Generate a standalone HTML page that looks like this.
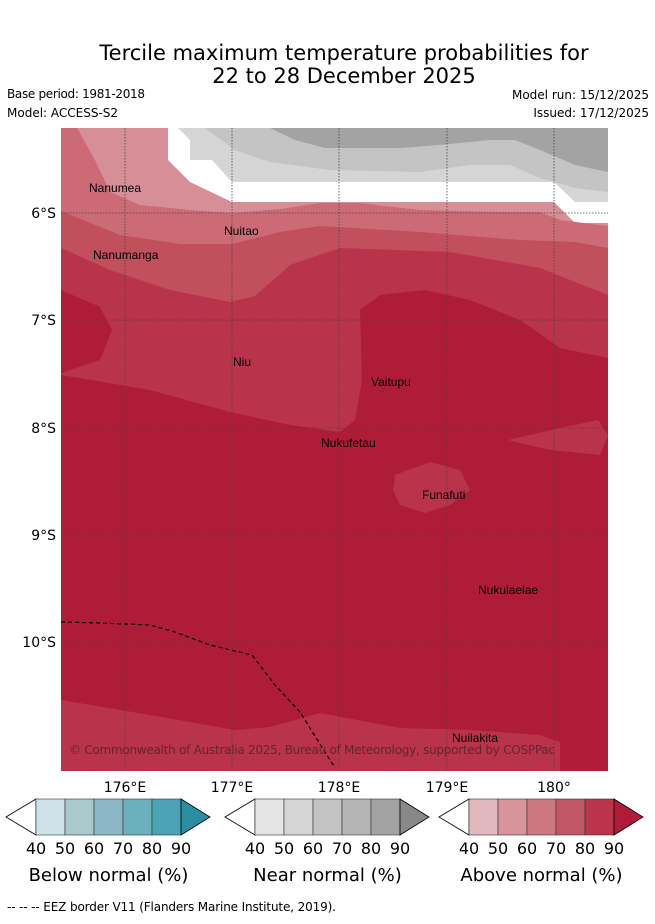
<!DOCTYPE html>
<html><head><meta charset="utf-8"><style>
body{margin:0;background:#fff;width:655px;height:919px;overflow:hidden;font-family:"Liberation Sans","DejaVu Sans",sans-serif;}
</style></head><body>
<svg id="s" width="655" height="919" xmlns="http://www.w3.org/2000/svg" font-family="DejaVu Sans, Liberation Sans, sans-serif">
<text x="344" y="60" font-size="21" text-anchor="middle">Tercile maximum temperature probabilities for</text>
<text x="344" y="83" font-size="21" text-anchor="middle">22 to 28 December 2025</text>
<text x="7" y="98" font-size="12" textLength="138">Base period: 1981-2018</text>
<text x="7" y="117" font-size="12">Model: ACCESS-S2</text>
<text x="649" y="99" font-size="12" text-anchor="end">Model run: 15/12/2025</text>
<text x="649" y="117" font-size="12" text-anchor="end">Issued: 17/12/2025</text>
<g>
<clipPath id="c"><rect x="61" y="128" width="547" height="643"/></clipPath>
<g clip-path="url(#c)">
<rect x="61" y="128" width="547" height="643" fill="#fff"/>
<polygon fill="#d5d5d5" points="178,128 608,128 608,202 575,202 554,182 232,182 212,160 190,160 190,140"/>
<polygon fill="#c4c4c4" points="205,128 235,150 270,162 330,170 420,172 470,165 510,165 540,178 575,188 608,192 608,128"/>
<polygon fill="#a3a3a3" points="270,128 295,140 325,148 400,148 440,145 490,140 515,140 540,150 575,165 608,172 608,128"/>
<polygon fill="#d78f97" points="61,128 168,128 168,160 190,182 232,202 554,202 575,223 608,223 608,771 61,771"/>
<polygon fill="#cc6b76" points="61,128 77,128 95,160 110,192 140,205 190,210 232,213 280,209 320,203 360,203 420,210 500,212 540,212 560,220 608,226 608,771 61,771"/>
<polygon fill="#c14f5c" points="61,211 120,235 180,244 232,244 280,232 320,226 420,232 520,240 575,242 608,248 608,771 61,771"/>
<polygon fill="#b9334a" points="61,248 110,270 170,290 230,302 255,296 290,265 340,248 450,252 540,268 608,295 608,771 61,771"/>
<polygon fill="#af1c38" points="61,375 150,390 230,412 290,425 340,432 355,420 362,380 360,310 380,295 425,290 470,300 520,320 560,348 608,358 608,771 61,771"/>
<polygon fill="#af1c38" points="61,290 100,307 112,330 100,360 61,373"/>
<polygon fill="#b9334a" points="395,475 430,462 460,470 470,490 450,505 425,513 400,505 393,490"/>
<polygon fill="#b9334a" points="508,440 560,428 598,420 608,435 600,455 550,450"/>
<polygon fill="#b9334a" points="61,700 150,715 235,730 270,727 320,713 400,728 470,730 540,735 560,742 560,771 61,771"/>
</g>
<g stroke="#444" stroke-width="0.8" stroke-dasharray="1.5,1.5">
<line x1="125" y1="128" x2="125" y2="771"/><line x1="232" y1="128" x2="232" y2="771"/><line x1="339" y1="128" x2="339" y2="771"/><line x1="447" y1="128" x2="447" y2="771"/><line x1="554" y1="128" x2="554" y2="771"/>
<line x1="61" y1="213" x2="608" y2="213"/><line x1="61" y1="320" x2="608" y2="320"/><line x1="61" y1="428" x2="608" y2="428"/><line x1="61" y1="535" x2="608" y2="535"/><line x1="61" y1="642" x2="608" y2="642"/>
</g>
<polyline fill="none" stroke="#000" stroke-width="1.2" stroke-dasharray="4,3" points="61,622 100,623 150,625 175,632 210,645 252,655 275,685 300,712 335,768"/>
<g font-size="12" fill="#000" font-family="Liberation Sans, sans-serif">
<text x="89" y="192">Nanumea</text><text x="224" y="235">Nuitao</text><text x="93" y="259">Nanumanga</text><text x="233" y="366">Niu</text><text x="371" y="386">Vaitupu</text><text x="321" y="447">Nukufetau</text><text x="422" y="499">Funafuti</text><text x="478" y="594">Nukulaelae</text><text x="452" y="742">Nuilakita</text>
</g>
<text x="69" y="754" font-size="12" fill="#5a2a30" textLength="486">© Commonwealth of Australia 2025, Bureau of Meteorology, supported by COSPPac</text>
</g>
<g font-size="14" text-anchor="end">
<text x="56" y="218">6°S</text><text x="56" y="325">7°S</text><text x="56" y="433">8°S</text><text x="56" y="540">9°S</text><text x="56" y="647">10°S</text>
</g>
<g font-size="14" text-anchor="middle">
<text x="125" y="792">176°E</text><text x="232" y="792">177°E</text><text x="339" y="792">178°E</text><text x="447" y="792">179°E</text><text x="554" y="792">180°</text>
</g>
<g id="bars"></g>
<text x="7" y="911" font-size="12" textLength="329">--  --  -- EEZ border V11 (Flanders Marine Institute, 2019).</text>
</svg>
<script>
const levels=["40","50","60","70","80","90"];
const belowColors=["#fff","#cce3e9","#a9c9cd","#8bb8c4","#6cafbd","#4aa3b4","#2a8ea0"];
const nearColors=["#fff","#e4e4e4","#d5d5d5","#c4c4c4","#b5b5b5","#a3a3a3","#888888"];
const aboveColors=["#fff","#e1b8be","#d8949b","#cd7880","#c25865","#bb354a","#b01c38"];
const titles=["Below normal (%)","Near normal (%)","Above normal (%)"];
const NS="http://www.w3.org/2000/svg";
const g=document.getElementById('bars');
function mk(t,a){const e=document.createElementNS(NS,t);for(const k in a)e.setAttribute(k,a[k]);return e;}
[[6,belowColors],[225,nearColors],[439,aboveColors]].forEach(([x0,cols],i)=>{
 const gg=mk('g',{});
 
 
 const L=x0+30,W=29,T=799,B=835,M=817;
 const lt=mk('polygon',{points:`${x0},${M} ${L},${T} ${L},${B}`,fill:cols[0],stroke:'#000','stroke-width':0.8});
 
 
 gg.appendChild(lt);
 for(let k=0;k<5;k++){const r=mk('rect',{x:L+k*W,y:T,width:W,height:B-T,fill:cols[k+1],stroke:'#333','stroke-width':0.6});
  
  
  gg.appendChild(r);}
 const R=L+5*W;
 const rt=mk('polygon',{points:`${R},${T} ${R+29},${M} ${R},${B}`,fill:cols[6],stroke:'#000','stroke-width':0.8});
 
 
 gg.appendChild(rt);
 levels.forEach((l,k)=>{const t=mk('text',{x:L+k*W,y:854,'font-size':16,'text-anchor':'middle'});t.textContent=l;
  
  
  gg.appendChild(t);});
 const tt=mk('text',{x:L+2.5*W,y:881,'font-size':18,'text-anchor':'middle'});tt.textContent=titles[i];
 
 
 gg.appendChild(tt);
 g.appendChild(gg);
});
</script>
</body></html>
